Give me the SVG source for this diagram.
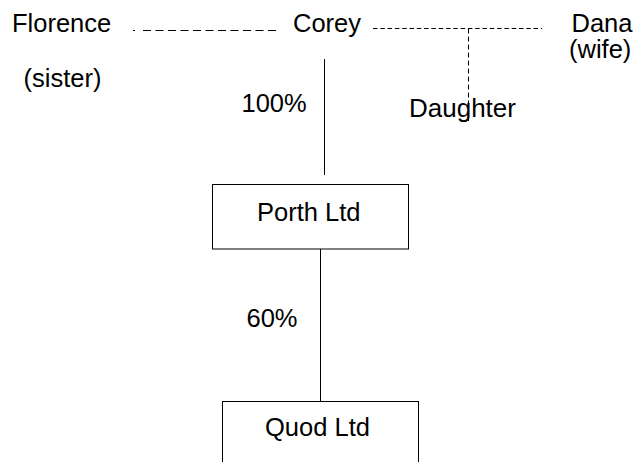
<svg xmlns="http://www.w3.org/2000/svg" width="637" height="462" viewBox="0 0 637 462">
<style>
  text { font-family: "Liberation Sans", Arial, sans-serif; font-size: 25.5px; fill: #000; }
  .box { fill: #fff; stroke: #000; stroke-width: 1; }
  .solid { stroke: #000; stroke-width: 1; fill: none; }
  .dash1 { stroke: #000; stroke-width: 1; fill: none; stroke-dasharray: 8 4.5; }
  .dash2 { stroke: #000; stroke-width: 1; fill: none; stroke-dasharray: 4.5 2.8; }
  .dash3 { stroke: #000; stroke-width: 1; fill: none; stroke-dasharray: 5 3; }
</style>
<rect width="637" height="462" fill="#fff"/>
<g id="connectors">
  <path class="dash1" d="M133 30.5 H135 M143 30.5 H277"/>
  <path class="dash2" d="M373 28.5 H542"/>
  <path class="dash3" d="M468.5 28.5 V121"/>
  <path class="solid" d="M324.5 59 V175"/>
  <path class="solid" d="M320.5 249 V401"/>
  <text x="241.5" y="111.5">100%</text>
  <text x="246.5" y="327">60%</text>
</g>
<g id="florence">
  <text x="12" y="31.5">Florence</text>
  <text x="23.5" y="86.5">(sister)</text>
</g>
<g id="corey">
  <text x="293" y="32">Corey</text>
</g>
<g id="dana">
  <text x="571.5" y="32">Dana</text>
  <text x="569" y="57.5">(wife)</text>
</g>
<g id="daughter">
  <text x="409" y="117" style="font-size:26px">Daughter</text>
</g>
<g id="porth">
  <rect class="box" x="212.5" y="184.5" width="196" height="64.5"/>
  <text x="257" y="221">Porth Ltd</text>
</g>
<g id="quod">
  <rect class="box" x="222.5" y="401.5" width="196" height="80"/>
  <text x="265" y="435.5">Quod Ltd</text>
</g>
</svg>
